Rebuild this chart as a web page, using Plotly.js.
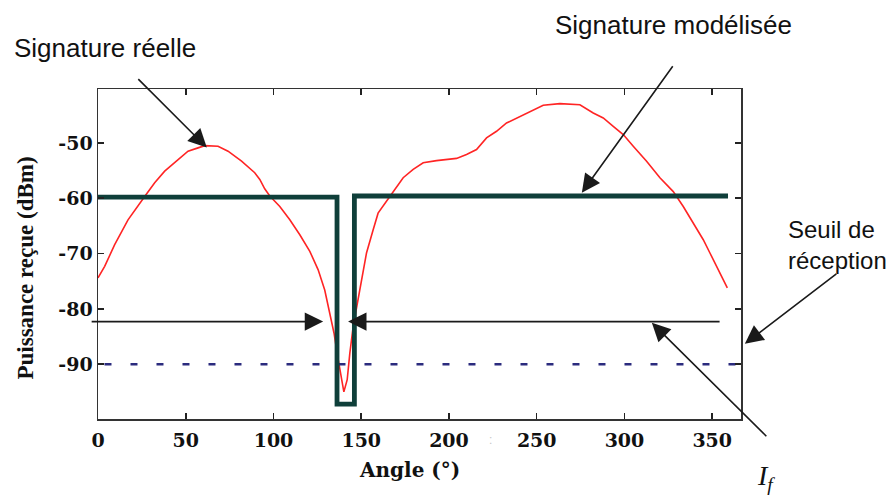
<!DOCTYPE html>
<html>
<head>
<meta charset="utf-8">
<script src="https://cdn.plot.ly/plotly-3.0.1.min.js"></script>
<style>html,body{margin:0;padding:0;background:#fff;}#chart{width:894px;height:501px;}</style>
</head>
<body>
<div id="chart"></div>
<script>
// Measured signature (red)
const angleReal = [0, 3.8, 9.5, 17.1, 26.6, 32.3, 38, 45.6, 51.3, 57, 60.8, 68.4, 74.1, 81.8, 89.3, 92.2, 95, 97.9,
  103.6, 109.3, 115, 120.7, 125.4, 129.2, 132.1, 134.5, 136.5, 138.4, 140.1, 142, 143.5, 145.5, 147.7, 150.2, 153,
  156.8, 159.6, 166.3, 170.1, 173.9, 179.6, 185.3, 192.9, 204.3, 210, 215.7, 221.4, 227.1, 232.8, 240.4, 248,
  253.7, 263.2, 274.6, 282.2, 287.9, 293.6, 299.3, 305, 312.6, 320.2, 327.8, 333.5, 339.2, 344.9, 348.7, 352.5,
  356.3, 358.6];
const powerReal = [-74.4, -72.3, -68.4, -63.9, -59.7, -57.2, -55.1, -53.0, -51.5, -50.9, -50.5, -50.6, -51.5, -53.3,
  -55.4, -56.6, -58.3, -59.6, -61.5, -63.9, -66.6, -69.6, -72.9, -76.6, -80.8, -84.4, -88.5, -91.6, -95.0, -92.8,
  -88.0, -83.0, -79.0, -74.7, -69.9, -65.7, -62.7, -59.7, -57.9, -56.3, -54.8, -53.6, -53.2, -52.8, -52.1, -51.2,
  -49.1, -47.9, -46.4, -45.2, -44.0, -43.2, -42.9, -43.1, -44.6, -45.5, -47.0, -48.5, -50.6, -53.3, -56.3, -58.8,
  -61.5, -64.5, -67.5, -69.9, -72.3, -74.7, -76.2];
// Modelled signature (dark green)
const angleModel = [0, 136.2, 136.2, 146.1, 146.1, 359];
const powerModel = [-59.8, -59.8, -97.2, -97.2, -59.6, -59.6];
// Reception threshold (dashed)
const angleThreshold = [3.7, 366.4];
const powerThreshold = [-90, -90];
// Interval I_f arrows
const ifLevel = -82.3;
const ifLeftTip = 128.3;
const ifRightTip = 142.5;
const xTicks = [0, 50, 100, 150, 200, 250, 300, 350];
const yTicks = [-90, -80, -70, -60, -50];
const yTickLabels = ['-90', '-80', '-70', '-60', '-50'];

const traces = [
  {x: angleReal, y: powerReal, mode: 'lines', line: {color: '#ff2424', width: 1.6}, hoverinfo: 'skip'},
  {x: angleThreshold, y: powerThreshold, mode: 'lines', line: {color: '#2b2b7e', width: 2.6, dash: '7px,19px'}, hoverinfo: 'skip'},
  {x: angleModel, y: powerModel, mode: 'lines', line: {color: '#0f3f3a', width: 4.8}, hoverinfo: 'skip'}
];

const tickFont = {family: 'DejaVu Serif', size: 19, color: '#111', weight: 'bold'};
const sansBig = {family: 'Liberation Sans, Arial, sans-serif', size: 26, color: '#111'};
const sansFont = {family: 'Liberation Sans, Arial, sans-serif', size: 24, color: '#111'};
const arrowBase = {text: '', showarrow: true, arrowhead: 2, arrowsize: 2.3, arrowwidth: 1.6, arrowcolor: '#1a1a1a',
  standoff: 0, startstandoff: 0, axref: 'pixel', ayref: 'pixel'};

const layout = {
  width: 894, height: 501,
  margin: {l: 98, r: 153, t: 89, b: 82, pad: 0},
  paper_bgcolor: '#fff', plot_bgcolor: '#fff',
  showlegend: false,
  xaxis: {range: [0, 366.4], tickvals: xTicks, ticks: 'inside', ticklen: 6, tickwidth: 1.5, tickcolor: '#222',
    showline: true, linecolor: '#333', linewidth: 1.5, mirror: 'ticks', showgrid: false, zeroline: false,
    tickfont: tickFont, ticklabelstandoff: 4},
  yaxis: {range: [-99.9, -40.26], tickvals: yTicks, ticktext: yTickLabels, ticks: 'inside', ticklen: 6, tickwidth: 1.5, tickcolor: '#222',
    showline: true, linecolor: '#333', linewidth: 1.5, mirror: 'ticks', showgrid: false, zeroline: false,
    tickfont: tickFont, ticklabelstandoff: 0},
  annotations: [
    {text: 'Puissance reçue (dBm)', xref: 'paper', yref: 'paper', x: -0.112, y: 0.459, textangle: -90,
      showarrow: false, xanchor: 'center', yanchor: 'middle',
      font: {family: 'Liberation Serif', size: 23, color: '#111', weight: 'bold'}},
    {text: 'Angle (°)', xref: 'paper', yref: 'paper', x: 0.485, y: -0.155, showarrow: false,
      xanchor: 'center', yanchor: 'middle', font: {family: 'DejaVu Serif', size: 20, color: '#111', weight: 'bold'}},
    {text: 'Signature réelle', xref: 'paper', yref: 'paper', x: -0.1337, y: 1.124, showarrow: false,
      xanchor: 'left', yanchor: 'middle', font: sansBig},
    {text: 'Signature modélisée', xref: 'paper', yref: 'paper', x: 0.7076, y: 1.194, showarrow: false,
      xanchor: 'left', yanchor: 'middle', font: sansBig},
    {text: 'Seuil de<br>réception', xref: 'paper', yref: 'paper', x: 1.070, y: 0.527, showarrow: false,
      xanchor: 'left', yanchor: 'middle', align: 'left', font: sansFont},
    {text: '<i>I</i><sub><i>f</i></sub>', xref: 'paper', yref: 'paper', x: 1.022, y: -0.178, showarrow: false,
      xanchor: 'left', yanchor: 'middle', font: {family: 'Liberation Serif', size: 28, color: '#111'}},
    {text: ':', xref: 'paper', yref: 'paper', x: 0.611, y: -0.064, showarrow: false,
      xanchor: 'center', yanchor: 'middle', font: {family: 'Liberation Sans', size: 12, color: '#c8c8c8'}},
    Object.assign({}, arrowBase, {xref: 'x', yref: 'y', x: 62.0, y: -50.85, ax: -70, ay: -70}),
    Object.assign({}, arrowBase, {xref: 'x', yref: 'y', x: 275.7, y: -59.0, ax: 92, ay: -128}),
    Object.assign({}, arrowBase, {xref: 'paper', yref: 'y', x: 1.006, y: -86.3, ax: 93, ay: -71}),
    Object.assign({}, arrowBase, {xref: 'x', yref: 'y', x: 315.6, y: -82.5, ax: 116, ay: 115}),
    Object.assign({}, arrowBase, {xref: 'x', yref: 'y', x: ifLeftTip, y: ifLevel, ax: -233, ay: 0}),
    Object.assign({}, arrowBase, {xref: 'x', yref: 'y', x: ifRightTip, y: ifLevel, ax: 373, ay: 0})
  ]
};

Plotly.newPlot('chart', traces, layout, {displayModeBar: false, staticPlot: true});
</script>
</body>
</html>
